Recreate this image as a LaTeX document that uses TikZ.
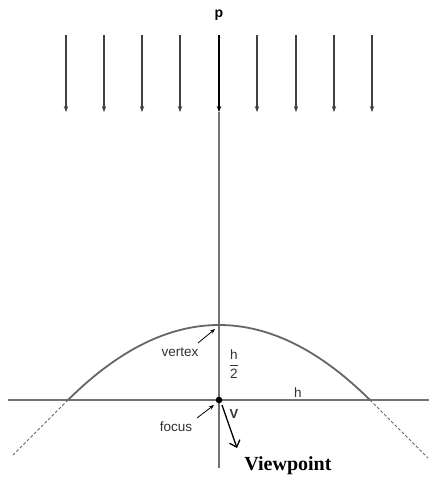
\documentclass[tikz,border=0pt]{standalone}
\usepackage{fontspec}
\setmainfont{Liberation Sans}
\newfontfamily\viewfont{Liberation Serif}
\usetikzlibrary{arrows.meta}
\begin{document}
\begin{tikzpicture}[x=1pt,y=-1pt,
  ray/.style={draw=black!75,line width=1.1pt,-{Stealth[length=6pt,width=4.5pt]}},
  axis/.style={draw=black!55,line width=1.2pt},
  curve/.style={draw=black!60,line width=1.8pt},
  tangent/.style={draw=black!60,line width=0.9pt,dashed,dash pattern=on 3pt off 2pt},
  lbl/.style={font=\fontsize{13.5}{15}\selectfont,text=black!80,inner sep=1pt},
  pointer/.style={draw=black,line width=0.8pt,-{Stealth[length=5pt,width=4pt]}}]
\useasboundingbox (0,0) rectangle (429,480);
\fill[white] (0,0) rectangle (429,480);
% rays
\foreach \x/\n in {66/a,104/b,142/c,180/d,257/e,296/f,334/g,372/h}{
  \coordinate (t\n) at (\x,35);
  \coordinate (b\n) at (\x,112);
  \draw[ray] (t\n) -- (b\n);
}
\coordinate (tc) at (219,35);
\coordinate (bc) at (219,112);
\coordinate (axbot) at (219,468);
\draw[axis] (bc) -- (axbot);
\draw[ray,draw=black,line width=1.3pt] (tc) -- (bc);
\node[font=\fontsize{14}{15}\selectfont\bfseries,inner sep=1pt] (p) at (219,15) {p};
% horizontal line
\coordinate (hl) at (8,400);
\coordinate (hr) at (429,400);
\draw[axis,line width=1.1pt] (hl) -- (hr);
% parabola
\coordinate (L) at (68,400);
\coordinate (R) at (370,400);
\coordinate (vtx) at (219,325);
\draw[curve] (L) .. controls (168.7,300) and (269.3,300) .. (R);
\coordinate (Ld) at (13,455);
\coordinate (Rd) at (428,458);
\draw[tangent] (L) -- (Ld);
\draw[tangent] (R) -- (Rd);
% focus
\coordinate (F) at (219,400);
\fill (F) circle (3.3pt);
% labels
\node[lbl] (vlab) at (180,352) {vertex};
\draw[pointer] (198,343) -- (215,329);
\node[lbl,align=center] (half) at (234,364) {$\displaystyle\frac{\textrm{h}}{\textrm{2}}$};
\node[lbl] (hlab) at (298,393) {h};
\node[lbl] (flab) at (176,427) {focus};
\draw[pointer] (197,418) -- (214,405);
\node[lbl,font=\fontsize{13}{14}\selectfont\bfseries] (V) at (234,414) {V};
\coordinate (vp) at (237,448);
\draw[line width=1.3pt,-{Straight Barb[length=6pt,width=11pt,line width=1.3pt]}] (222,405) -- (vp);
\node[font=\viewfont\fontsize{20}{22}\selectfont\bfseries,inner sep=1pt] (view) at (288,466) {Viewpoint};
\end{tikzpicture}
\end{document}
